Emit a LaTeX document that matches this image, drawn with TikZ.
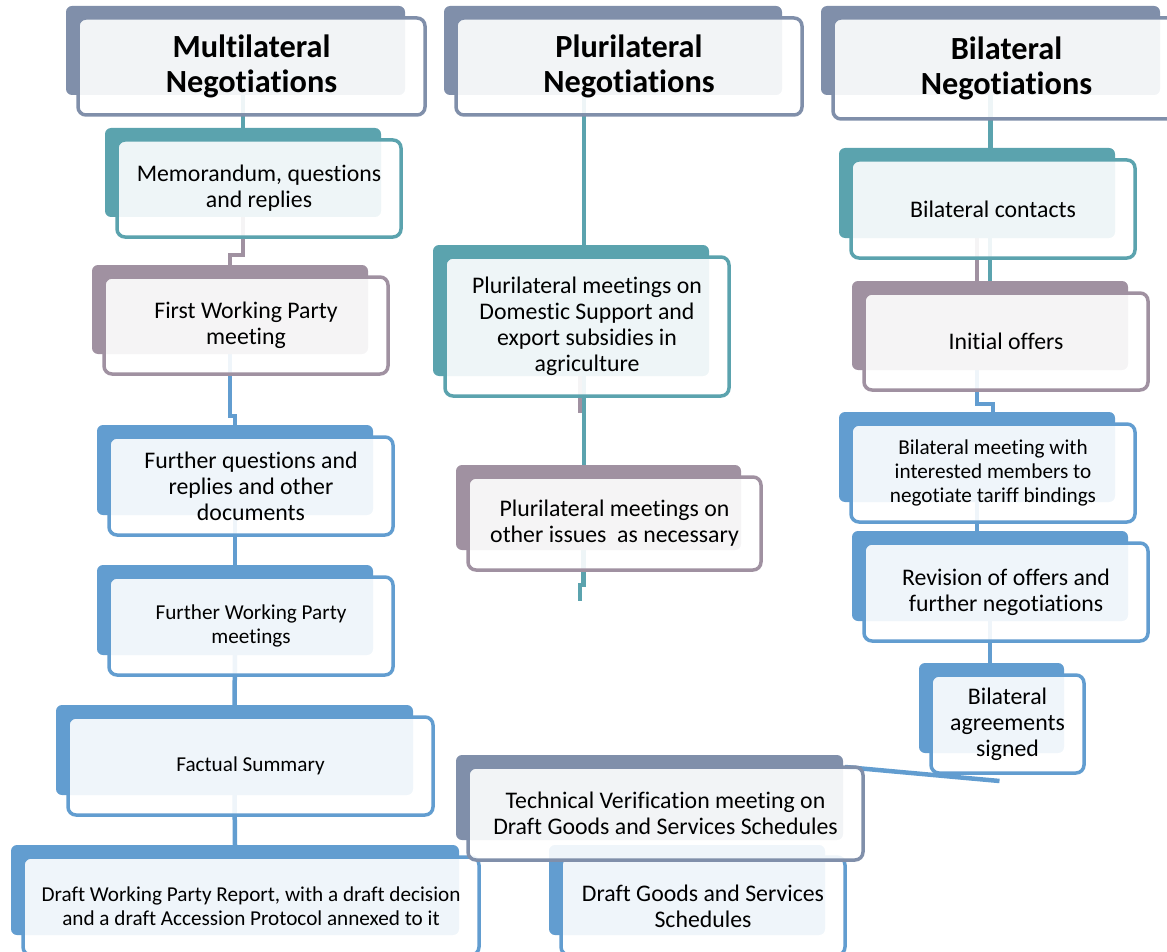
\documentclass[tikz,border=0pt]{standalone}
\usepackage{fontspec}
\setmainfont{Carlito}[Ligatures={NoCommon}]
\usepackage{tikz}
\usetikzlibrary{positioning}
\usetikzlibrary{backgrounds}

\definecolor{headc}{RGB}{128,143,170}
\definecolor{tealc}{RGB}{91,163,174}
\definecolor{purpc}{RGB}{160,145,161}
\definecolor{bluec}{RGB}{98,157,208}

\begin{document}
\begin{tikzpicture}[x=1pt,y=-1pt,
    back/.style={rectangle,rounded corners=6,inner sep=0pt,outer sep=0pt},
    front/.style={rectangle,rounded corners=8,line width=3.5pt,inner sep=0pt,outer sep=0pt,
      anchor=north west,align=center,fill=white,fill opacity=0.9,text opacity=1,
      font=\fontsize{23.8}{26}\selectfont},
    head/.style={font=\bfseries\fontsize{32.3}{35}\selectfont},
    small/.style={font=\fontsize{21.2}{24}\selectfont},
    link/.style={line width=4.5pt}]

  \useasboundingbox (0,0) rectangle (1167,952);

  \node [back,fill=headc,minimum width=339,minimum height=89] (head1-b) at (235.5,50.5) {};
  \node [front,head,draw=headc,minimum width=347,minimum height=97] (head1) at ([shift={(12,12)}]head1-b.north west) {Multilateral\\Negotiations};

  \node [back,fill=headc,minimum width=338,minimum height=89] (head2-b) at (613,50.5) {};
  \node [front,head,draw=headc,minimum width=346,minimum height=97] (head2) at ([shift={(12,12)}]head2-b.north west) {Plurilateral\\Negotiations};

  \node [back,fill=headc,minimum width=339,minimum height=89] (head3-b) at (990.5,50.5) {};
  \node [front,head,draw=headc,minimum width=347,minimum height=101] (head3) at ([shift={(12,12)}]head3-b.north west) {Bilateral\\Negotiations};

  \node [back,fill=tealc,minimum width=276,minimum height=89] (memo-b) at (243,172.5) {};
  \node [front,draw=tealc,minimum width=284,minimum height=97] (memo) at ([shift={(12,12)}]memo-b.north west) {Memorandum, questions\\and replies};

  \node [back,fill=purpc,minimum width=276,minimum height=89] (wp1-b) at (230,309.5) {};
  \node [front,draw=purpc,minimum width=284,minimum height=97] (wp1) at ([shift={(12,12)}]wp1-b.north west) {First Working Party\\meeting};

  \node [back,fill=bluec,minimum width=276,minimum height=90] (fq-b) at (235,470) {};
  \node [front,draw=bluec,minimum width=284,minimum height=98] (fq) at ([shift={(12,12)}]fq-b.north west) {Further questions and\\replies and other\\documents};

  \node [back,fill=bluec,minimum width=276,minimum height=90] (fwp-b) at (235,610) {};
  \node [front,small,draw=bluec,minimum width=284,minimum height=98] (fwp) at ([shift={(12,12)}]fwp-b.north west) {Further Working Party\\meetings};

  \node [back,fill=bluec,minimum width=357,minimum height=90] (fact-b) at (234.5,750) {};
  \node [front,small,draw=bluec,minimum width=365,minimum height=98] (fact) at ([shift={(12,12)}]fact-b.north west) {Factual Summary};

  \node [back,fill=bluec,minimum width=448,minimum height=90] (dwp-b) at (235,890) {};
  \node [front,small,draw=bluec,minimum width=456,minimum height=98] (dwp) at ([shift={(12,12)}]dwp-b.north west) {Draft Working Party Report, with a draft decision\\and a draft Accession Protocol annexed to it};

  \node [back,fill=tealc,minimum width=276,minimum height=131] (pds-b) at (571,310.5) {};
  \node [front,draw=tealc,minimum width=284,minimum height=139] (pds) at ([shift={(12,12)}]pds-b.north west) {Plurilateral meetings on\\Domestic Support and\\export subsidies in\\agriculture};

  \node [back,fill=purpc,minimum width=285,minimum height=85] (po-b) at (598.5,507.5) {};
  \node [front,draw=purpc,minimum width=293,minimum height=93] (po) at ([shift={(12,12)}]po-b.north west) {Plurilateral meetings on\\other issues\ \ as necessary};

  \node [back,fill=bluec,minimum width=276,minimum height=90] (dgs-b) at (687,890) {};
  \node [front,draw=bluec,minimum width=284,minimum height=98] (dgs) at ([shift={(12,12)}]dgs-b.north west) {Draft Goods and Services\\Schedules};

  \node [back,fill=headc,minimum width=387,minimum height=85] (tech-b) at (649.5,797.5) {};
  \node [front,draw=headc,minimum width=395,minimum height=93] (tech) at ([shift={(12,12)}]tech-b.north west) {Technical Verification meeting on\\Draft Goods and Services Schedules};

  \node [back,fill=tealc,minimum width=276,minimum height=90] (bc-b) at (977,193) {};
  \node [front,draw=tealc,minimum width=284,minimum height=98] (bc) at ([shift={(12,12)}]bc-b.north west) {Bilateral contacts};

  \node [back,fill=purpc,minimum width=276,minimum height=89] (io-b) at (990,325.5) {};
  \node [front,draw=purpc,minimum width=284,minimum height=97] (io) at ([shift={(12,12)}]io-b.north west) {Initial offers};

  \node [back,fill=bluec,minimum width=276,minimum height=90] (bm-b) at (977,457) {};
  \node [front,small,draw=bluec,minimum width=284,minimum height=98] (bm) at ([shift={(12,12)}]bm-b.north west) {Bilateral meeting with\\interested members to\\negotiate tariff bindings};

  \node [back,fill=bluec,minimum width=276,minimum height=90] (rev-b) at (990,576) {};
  \node [front,draw=bluec,minimum width=284,minimum height=98] (rev) at ([shift={(12,12)}]rev-b.north west) {Revision of offers and\\further negotiations};

  \node [back,fill=bluec,minimum width=145,minimum height=90] (ba-b) at (991.5,708) {};
  \node [front,draw=bluec,minimum width=153,minimum height=98] (ba) at ([shift={(12,12)}]ba-b.north west) {Bilateral\\agreements\\signed};

  \coordinate (po-end) at (580,601);

  \begin{scope}[on background layer]
    \draw [link,tealc] (head1-b.south -| memo-b.north) -- (memo-b.north);
    \draw [link,purpc] (memo-b.south) -- ++(0,38) -| (wp1-b.north);
    \draw [link,bluec] (wp1-b.south) -- ++(0,62) -| (fq-b.north);
    \draw [link,bluec] (fq-b.south) -- (fwp-b.north);
    \draw [link,bluec] (fwp-b.south) -- (fact-b.north);
    \draw [link,bluec] (fact-b.south) -- (dwp-b.north);

    \draw [link,tealc] ([shift={(13,0)}]pds-b.north) -- ([shift={(13,0)}]pds-b.north |- head2-b.south);
    \draw [link,purpc] ([shift={(9,0)}]pds-b.south) -- ++(0,37);
    \draw [link,tealc] ([shift={(13,0)}]pds-b.south) -- ([shift={(13,0)}]pds-b.south |- po-b.north);
    \draw [link,tealc] ([shift={(-15,0)}]po-b.south) -- ++(0,35) -| (po-end);

    \draw [link,tealc] (head3-b.south) -- (head3-b.south |- bc-b.north);
    \draw [link,purpc] (bc-b.south) -- (bc-b.south |- io-b.north);
    \draw [link,tealc] (io-b.north) -- (io-b.north |- bc-b.south);
    \draw [link,bluec] (bm-b.north |- io-b.south) -- ([shift={(0,-8)}]bm-b.north) -| ([shift={(16,0)}]bm-b.north);
    \draw [link,bluec] (bm-b.south) -- (bm-b.south |- rev-b.north);
    \draw [link,bluec] (rev-b.south) -- (rev-b.south |- ba-b.north);
    \draw [link,bluec] ([shift={(-18,0)}]tech.north east) -- ([shift={(-8,8)}]ba.south);
  \end{scope}

\end{tikzpicture}
\end{document}
